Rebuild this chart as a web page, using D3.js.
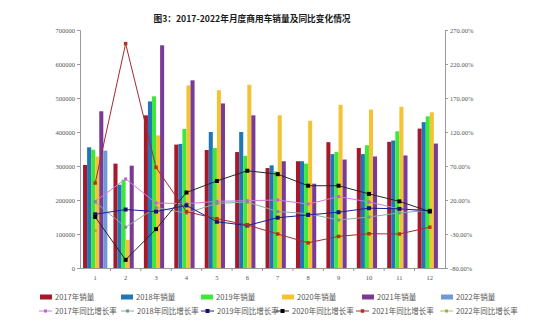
<!DOCTYPE html>
<html>
<head>
<meta charset="utf-8">
<script src="https://cdn.jsdelivr.net/npm/d3@7"></script>
<style>
  html, body { margin: 0; padding: 0; background: #fff; }
  svg { display: block; font-family: "Noto Sans CJK SC", "Noto Sans", sans-serif; }
</style>
</head>
<body>
<svg id="chart" width="539" height="323"></svg>
<script>
// Monthly commercial-vehicle sales (units) and year-on-year growth (%)
const months = ["1","2","3","4","5","6","7","8","9","10","11","12"];

const sales2017 = [303000, 307000, 449000, 363000, 347000, 341000, 294000, 314000, 370000, 353000, 371000, 410000];
const sales2018 = [355000, 245000, 490000, 365000, 400000, 400000, 302000, 314000, 335000, 335000, 375000, 429000];
const sales2019 = [348000, 260000, 505000, 409000, 353000, 330000, 284000, 307000, 341000, 361000, 402000, 446000];
const sales2020 = [328000, 83000, 390000, 537000, 523000, 539000, 449000, 433000, 480000, 466000, 474000, 458000];
const sales2021 = [461000, 301000, 655000, 552000, 484000, 449000, 314000, 248000, 319000, 328000, 331000, 366000];
const sales2022 = [345000, null, null, null, null, null, null, null, null, null, null, null];

const growth2017 = [18, 51, 15.6, 14.6, 18, 19, 20, 14, 25, 17, 7, 4];
const growth2018 = [17, -20, 9, 0.5, 15, 17, 3, 0, -9.5, -5, 1, 5];
const growth2019 = [-1, 6, 3, 12, -12, -17.5, -6, -2, 2, 8, 7, 4];
const growth2020 = [-5, -68, -22.8, 31, 48, 63, 58, 41, 41, 29, 18, 3];
const growth2021 = [45, 250, 68, 2.8, -7.5, -16.7, -30, -43, -33.5, -29.6, -30, -20];
const growth2022 = [-25, null, null, null, null, null, null, null, null, null, null, null];

const salesTicks = [0, 100000, 200000, 300000, 400000, 500000, 600000, 700000];
const growthTicks = [-80, -30, 20, 70, 120, 170, 220, 270];

const barSeries = [
  { name: "2017年销量", values: sales2017, color: "#a5192b" },
  { name: "2018年销量", values: sales2018, color: "#1f77b8" },
  { name: "2019年销量", values: sales2019, color: "#3ee83a" },
  { name: "2020年销量", values: sales2020, color: "#f3c334" },
  { name: "2021年销量", values: sales2021, color: "#7a3b97" },
  { name: "2022年销量", values: sales2022, color: "#6f9ad6" }
];

const lineSeries = [
  { name: "2017年同比增长率", values: growth2017, color: "#d27ad8", marker: "#c45fcf", size: 3 },
  { name: "2018年同比增长率", values: growth2018, color: "#8fae9c", marker: "#6d9a80", size: 3 },
  { name: "2019年同比增长率", values: growth2019, color: "#1c1f96", marker: "#10127a", size: 4 },
  { name: "2020年同比增长率", values: growth2020, color: "#262626", marker: "#000000", size: 4 },
  { name: "2021年同比增长率", values: growth2021, color: "#a52a30", marker: "#b3331a", size: 3.5 },
  { name: "2022年同比增长率", values: growth2022, color: "#b4c25a", marker: "#9fb040", size: 3 }
];

const svg = d3.select("#chart");
const plot = { left: 80, right: 445, top: 30, bottom: 268 };

const x0 = d3.scaleBand().domain(months).range([plot.left, plot.right]).padding(0);
const x1 = d3.scaleBand().domain(d3.range(barSeries.length))
  .range([x0.bandwidth() * 0.1, x0.bandwidth() * 0.9]).padding(0);
const yL = d3.scaleLinear().domain([0, 700000]).range([plot.bottom, plot.top]);
const yR = d3.scaleLinear().domain([-80, 270]).range([plot.bottom, plot.top]);

// Title
svg.append("text")
  .attr("x", 252).attr("y", 22)
  .attr("text-anchor", "middle")
  .attr("font-size", 8.7).attr("font-weight", "bold")
  .attr("fill", "#1a1a1a")
  .text("图3：2017-2022年月度商用车销量及同比变化情况");

// Bars
const groups = svg.append("g").selectAll("g")
  .data(barSeries).join("g")
  .attr("fill", d => d.color);
groups.each(function(s, si) {
  d3.select(this).selectAll("rect")
    .data(s.values.map((v, i) => ({ v, m: months[i] })).filter(d => d.v != null))
    .join("rect")
    .attr("x", d => x0(d.m) + x1(si))
    .attr("width", x1.bandwidth())
    .attr("y", d => yL(d.v))
    .attr("height", d => yL(0) - yL(d.v));
});

// Axes
const axisColor = "#9a9a9a";
const labelColor = "#555";
function styleAxis(g) {
  g.selectAll(".domain").attr("stroke", axisColor);
  g.selectAll(".tick line").attr("stroke", axisColor);
  g.selectAll(".tick text").attr("fill", labelColor).attr("font-size", 6.5)
    .attr("font-family", "'Liberation Serif', serif");
}

svg.append("g")
  .attr("transform", `translate(${plot.left},0)`)
  .call(d3.axisLeft(yL).tickValues(salesTicks).tickFormat(d3.format("d")).tickSize(3).tickPadding(2))
  .call(styleAxis);

svg.append("g")
  .attr("transform", `translate(${plot.right},0)`)
  .call(d3.axisRight(yR).tickValues(growthTicks).tickFormat(d => d.toFixed(2) + "%").tickSize(3).tickPadding(2))
  .call(styleAxis);

const xAxis = svg.append("g")
  .attr("transform", `translate(0,${plot.bottom})`)
  .call(d3.axisBottom(x0).tickSize(0).tickPadding(7))
  .call(styleAxis);
// Small separators between month groups
xAxis.selectAll(".sep")
  .data(months.slice(1)).join("line")
  .attr("x1", d => x0(d)).attr("x2", d => x0(d))
  .attr("y1", 0).attr("y2", 3)
  .attr("stroke", axisColor);

// Growth lines
const line = d3.line()
  .defined(d => d.v != null)
  .x(d => x0(d.m) + x0.bandwidth() / 2)
  .y(d => yR(d.v));

lineSeries.forEach(s => {
  const pts = s.values.map((v, i) => ({ v, m: months[i] }));
  svg.append("path")
    .datum(pts)
    .attr("fill", "none")
    .attr("stroke", s.color)
    .attr("stroke-width", 1)
    .attr("d", line);
  svg.append("g").selectAll("rect")
    .data(pts.filter(d => d.v != null)).join("rect")
    .attr("x", d => x0(d.m) + x0.bandwidth() / 2 - s.size / 2)
    .attr("y", d => yR(d.v) - s.size / 2)
    .attr("width", s.size).attr("height", s.size)
    .attr("fill", s.marker);
});

// Legend
const legendText = "#555";
const barLegendX = [55, 136, 216, 297, 377, 456];
const lineLegendX = [55, 137, 217, 292, 372, 456];

const lg1 = svg.append("g").selectAll("g").data(barSeries).join("g")
  .attr("transform", (d, i) => `translate(${barLegendX[i]},297)`);
lg1.append("rect").attr("x", -15).attr("y", -2.5).attr("width", 12).attr("height", 5)
  .attr("fill", d => d.color);
lg1.append("text").attr("x", 0).attr("y", 3).attr("font-size", 7.5).attr("fill", legendText)
  .text(d => d.name);

const lg2 = svg.append("g").selectAll("g").data(lineSeries).join("g")
  .attr("transform", (d, i) => `translate(${lineLegendX[i]},311)`);
lg2.append("line").attr("x1", -16).attr("x2", -3).attr("y1", 0).attr("y2", 0)
  .attr("stroke", d => d.color).attr("stroke-width", 1);
lg2.append("rect").attr("x", d => -9.5 - d.size / 2).attr("y", d => -d.size / 2)
  .attr("width", d => d.size).attr("height", d => d.size)
  .attr("fill", d => d.marker);
lg2.append("text").attr("x", 0).attr("y", 3).attr("font-size", 7.5).attr("fill", legendText)
  .text(d => d.name);
</script>
</body>
</html>
